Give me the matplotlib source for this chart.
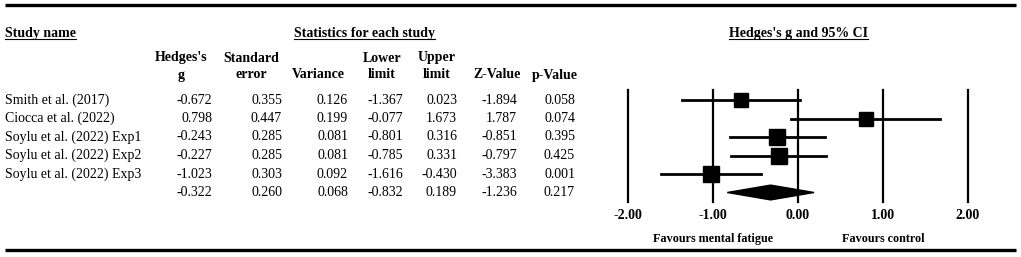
import matplotlib.pyplot as plt
import numpy as np

plt.rcParams["font.family"] = ["Liberation Serif", "DejaVu Serif"]

studies = ["Smith et al. (2017)", "Ciocca et al. (2022)", "Soylu et al. (2022) Exp1",
           "Soylu et al. (2022) Exp2", "Soylu et al. (2022) Exp3", ""]
hedges_g = [-0.672, 0.798, -0.243, -0.227, -1.023, -0.322]
std_err = [0.355, 0.447, 0.285, 0.285, 0.303, 0.260]
variance = [0.126, 0.199, 0.081, 0.081, 0.092, 0.068]
lower = [-1.367, -0.077, -0.801, -0.785, -1.616, -0.832]
upper = [0.023, 1.673, 0.316, 0.331, -0.430, 0.189]
z_value = [-1.894, 1.787, -0.851, -0.797, -3.383, -1.236]
p_value = [0.058, 0.074, 0.395, 0.425, 0.001, 0.217]
ticks = [-2, -1, 0, 1, 2]

W, H = 1021, 257
fig = plt.figure(figsize=(W / 100, H / 100), dpi=100)

# full-figure axes in pixel coordinates for the table
tab = fig.add_axes([0, 0, 1, 1])
tab.set_xlim(0, W)
tab.set_ylim(H, 0)
tab.axis("off")

fs = 10
row_y = [100, 118.5, 137, 155.5, 174, 192.5]

tab.plot([5, 1016], [5, 5], color="black", lw=2.4, solid_capstyle="butt")
tab.plot([5, 1016], [250, 250], color="black", lw=2.4, solid_capstyle="butt")

headers = [("Study name", 5, "left"), ("Statistics for each study", 294, "left"),
           ("Hedges's g and 95% CI", 798, "center")]
fig.canvas.draw()
renderer = fig.canvas.get_renderer()
for txt, x, ha in headers:
    t = tab.text(x, 33, txt, fontsize=fs, fontweight="bold", ha=ha, va="center")
    bb = t.get_window_extent(renderer)
    tab.plot([bb.x0, bb.x1], [38.5, 38.5], color="black", lw=0.8)

col_heads = [("Hedges's", "g", 181), ("Standard", "error", 251), ("", "Variance", 318),
             ("Lower", "limit", 382), ("Upper", "limit", 437), ("", "Z-Value", 497),
             ("", "p-Value", 555)]
for top, bottom, x in col_heads:
    tab.text(x, 58, top, fontsize=fs, fontweight="bold", ha="center", va="center")
    tab.text(x, 75, bottom, fontsize=fs, fontweight="bold", ha="center", va="center")

cols = [(hedges_g, 212), (std_err, 282), (variance, 348), (lower, 403),
        (upper, 457), (z_value, 517), (p_value, 575)]
for i, y in enumerate(row_y):
    tab.text(5, y, studies[i], fontsize=fs, ha="left", va="center")
    for vals, x in cols:
        tab.text(x, y, f"{vals[i]:.3f}", fontsize=fs, ha="right", va="center")

# forest plot axes: x in effect size units, y in row units
x0px, x1px = 600, 1000
y0px, y1px = 85, 205
ppu = 85.0
zero_px = 798
spacing = 18.5
fx = fig.add_axes([x0px / W, 1 - y1px / H, (x1px - x0px) / W, (y1px - y0px) / H])
fx.set_xlim((x0px - zero_px) / ppu, (x1px - zero_px) / ppu)
fx.set_ylim((y1px - row_y[0]) / spacing, (y0px - row_y[0]) / spacing)
fx.patch.set_visible(False)
for s in fx.spines.values():
    s.set_visible(False)
fx.set_yticks([])
fx.set_xticks(ticks)
fx.set_xticklabels([f"{t:.2f}" for t in ticks], fontsize=fs, fontweight="bold")
fx.tick_params(axis="x", length=0, pad=3)

for t in ticks:
    fx.plot([t, t], [-0.55, 5.5], color="black", lw=1.6, zorder=1)

# square size grows with study weight (inverse variance)
weights = [1 / v for v in variance[:5]]
for i in range(5):
    fx.plot([lower[i], upper[i]], [i, i], color="black", lw=2, zorder=2)
    fx.plot(hedges_g[i], i, marker="s", color="black", ms=(11 + 0.4 * weights[i]) * 0.72,
            zorder=3)

i = 5
fx.fill([lower[i], hedges_g[i], upper[i], hedges_g[i]],
        [i, i - 0.4, i, i + 0.4], color="black", zorder=3)

fx.text(-1, -0.28, "Favours mental fatigue", transform=fx.get_xaxis_transform(),
        fontsize=8.7, fontweight="bold", ha="center", va="center")
fx.text(1, -0.28, "Favours control", transform=fx.get_xaxis_transform(),
        fontsize=8.7, fontweight="bold", ha="center", va="center")

plt.savefig("out.png", dpi=100)
